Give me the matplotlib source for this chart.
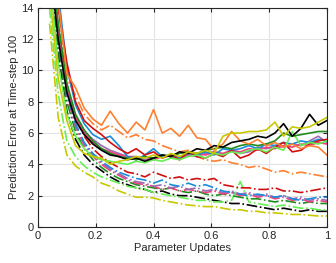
import matplotlib
matplotlib.use('Agg')
import matplotlib.pyplot as plt

plt.rcParams['font.family'] = ['Liberation Sans', 'DejaVu Sans']

x = [0.04, 0.07, 0.10, 0.13, 0.16, 0.19, 0.22, 0.25, 0.28, 0.31, 0.34,
     0.37, 0.40, 0.43, 0.46, 0.49, 0.52, 0.55, 0.58, 0.61, 0.64, 0.67,
     0.70, 0.73, 0.76, 0.79, 0.82, 0.85, 0.88, 0.91, 0.94, 0.97, 1.00]

# solid lines
black_solid = [17, 12, 8.6, 6.8, 5.9, 5.3, 4.9, 4.6, 4.5, 4.3, 4.4, 4.2, 4.4, 4.6, 4.5, 4.8, 4.7,
               5.0, 4.9, 5.2, 5.1, 5.4, 5.5, 5.6, 5.8, 5.7, 6.0, 6.6, 5.8, 6.3, 7.2, 6.5, 6.8]
red_solid = [19, 14, 10.5, 8.0, 6.8, 6.3, 5.9, 5.4, 5.0, 4.7, 5.0, 4.6, 4.8, 4.4, 4.6, 4.3, 4.8,
             4.5, 4.4, 4.7, 4.5, 4.9, 4.4, 4.6, 5.0, 4.7, 5.1, 5.4, 4.8, 4.9, 5.3, 5.5, 5.6]
blue_solid = [20, 15, 10.2, 7.8, 6.6, 5.9, 5.6, 5.8, 5.2, 4.5, 4.3, 4.6, 5.0, 4.5, 4.6, 4.4, 4.7,
              4.6, 4.8, 4.6, 5.0, 4.9, 5.0, 5.2, 5.0, 5.3, 5.2, 5.4, 5.3, 5.5, 5.4, 5.6, 5.5]
orange_solid = [20, 14.5, 9.8, 8.9, 7.6, 6.9, 6.5, 7.4, 6.6, 6.0, 6.7, 6.2, 7.5, 6.0, 6.3, 5.8, 6.5,
                5.7, 5.6, 4.9, 5.3, 6.1, 5.5, 5.3, 5.6, 5.2, 5.4, 5.1, 5.3, 5.0, 5.2, 5.1, 4.6]
green_solid = [18, 13, 9.2, 7.2, 6.2, 5.5, 5.0, 4.7, 4.5, 4.4, 4.3, 4.5, 4.4, 4.6, 4.5, 4.7, 4.8,
               4.7, 4.9, 5.0, 5.1, 5.0, 5.2, 5.3, 5.2, 5.3, 5.5, 6.0, 5.8, 5.9, 6.0, 6.1, 6.1]
lgreen_solid = [16, 10.5, 7.2, 5.8, 5.0, 4.5, 4.3, 4.2, 4.1, 4.0, 4.2, 4.1, 4.3, 4.2, 4.4, 4.3, 4.5,
                4.6, 4.4, 4.7, 4.6, 4.8, 4.7, 4.9, 5.0, 4.8, 5.1, 4.9, 6.1, 5.2, 5.4, 5.3, 5.5]
pink_solid = [18, 12.5, 8.8, 7.0, 6.0, 5.4, 5.0, 4.8, 4.6, 4.5, 4.4, 4.5, 4.3, 4.5, 4.6, 4.4, 4.6,
              4.7, 4.6, 4.8, 4.7, 4.9, 4.8, 5.0, 4.9, 5.1, 5.0, 5.2, 5.1, 5.3, 5.2, 5.4, 5.3]
purple_solid = [18, 12.8, 9.0, 7.1, 6.1, 5.6, 5.2, 4.9, 4.7, 4.5, 4.5, 4.3, 4.4, 4.6, 4.5, 4.3, 4.6,
                4.5, 4.7, 4.8, 4.6, 4.9, 4.7, 4.8, 5.1, 5.0, 5.2, 5.1, 5.3, 5.2, 5.5, 5.8, 5.4]
yellow_solid = [15, 9.5, 6.8, 5.2, 4.7, 4.5, 4.4, 4.0, 4.2, 4.3, 4.5, 4.4, 4.6, 4.4, 4.7, 4.5, 4.8,
                4.7, 4.9, 4.7, 5.8, 6.0, 6.0, 6.1, 6.1, 6.2, 6.7, 5.8, 6.4, 6.3, 6.4, 6.7, 7.0]

# dash-dot lines
black_dash = [17, 11, 7.4, 5.6, 4.6, 4.0, 3.6, 3.2, 2.9, 2.7, 2.5, 2.4, 2.2, 2.3, 2.1, 2.0, 2.0,
              1.9, 1.8, 1.7, 1.6, 1.5, 1.5, 1.4, 1.3, 1.2, 1.1, 1.2, 1.1, 1.0, 1.1, 1.0, 1.0]
red_dash = [18, 12.5, 9.0, 7.0, 5.8, 5.0, 4.5, 4.1, 3.8, 3.5, 3.4, 3.2, 3.5, 3.3, 3.1, 3.2, 3.0,
            3.1, 3.0, 3.1, 2.7, 2.6, 2.5, 2.5, 2.4, 2.4, 2.5, 2.3, 2.3, 2.2, 2.3, 2.4, 2.5]
blue_dash = [18, 12, 8.5, 6.6, 5.4, 4.7, 4.2, 3.8, 3.5, 3.3, 3.1, 3.0, 2.8, 3.0, 2.7, 2.6, 2.8,
             2.6, 2.7, 2.5, 2.3, 2.2, 2.1, 2.0, 2.1, 2.0, 1.9, 2.0, 1.8, 1.7, 1.8, 1.9, 1.9]
orange_dash = [20, 14, 9.5, 8.4, 7.2, 6.6, 6.2, 6.5, 6.1, 5.7, 5.9, 5.6, 5.5, 5.2, 5.0, 4.8, 4.9,
               4.5, 4.3, 4.2, 4.3, 4.1, 4.0, 3.8, 3.9, 3.7, 3.5, 3.6, 3.4, 3.5, 3.4, 3.3, 3.2]
green_dash = [17, 11.5, 8.0, 6.1, 5.0, 4.3, 3.8, 3.4, 3.1, 2.9, 2.7, 2.6, 2.5, 2.4, 2.5, 2.3, 2.2,
              2.3, 2.1, 2.0, 2.1, 2.0, 1.9, 1.8, 1.8, 1.7, 1.6, 1.7, 1.6, 1.5, 1.6, 1.5, 1.5]
lgreen_dash = [14, 8.5, 5.5, 4.5, 3.9, 3.5, 3.2, 3.0, 2.8, 2.6, 2.5, 2.4, 2.2, 2.1, 2.0, 1.9, 1.8,
               1.7, 1.7, 1.6, 1.6, 1.7, 2.9, 1.6, 1.5, 1.4, 1.3, 1.4, 1.3, 1.2, 1.2, 1.1, 1.1]
pink_dash = [18, 12, 8.4, 6.4, 5.2, 4.5, 4.0, 3.6, 3.3, 3.0, 2.8, 2.7, 2.6, 2.4, 2.5, 2.3, 2.4,
             2.3, 2.2, 2.3, 2.1, 2.2, 2.0, 2.1, 1.9, 2.0, 1.8, 1.9, 1.7, 1.8, 1.6, 1.7, 1.6]
purple_dash = [18, 12.2, 8.6, 6.5, 5.3, 4.6, 4.1, 3.7, 3.4, 3.1, 2.9, 2.8, 2.6, 2.7, 2.5, 2.6, 2.4,
               2.5, 2.3, 2.4, 2.2, 2.3, 2.1, 2.2, 2.0, 2.1, 1.9, 2.0, 1.8, 1.9, 1.7, 1.8, 1.7]
yellow_dash = [13, 7.0, 4.6, 3.9, 3.5, 3.2, 2.8, 2.6, 2.3, 2.1, 1.9, 1.9, 1.85, 1.7, 1.6, 1.5, 1.4,
               1.35, 1.3, 1.3, 1.2, 1.1, 1.1, 1.0, 1.0, 0.9, 0.9, 0.85, 0.8, 0.8, 0.75, 0.7, 0.7]

series = [
    (yellow_dash, '#c8c800', '-.'), (black_dash, 'black', '-.'), (lgreen_dash, '#66ee55', '-.'),
    (green_dash, '#1e8c1e', '-.'), (pink_dash, '#f0407f', '-.'), (purple_dash, '#9b6bb0', '-.'),
    (blue_dash, '#1a8cd8', '-.'), (red_dash, '#d01010', '-.'), (orange_dash, '#ff8030', '-.'),
    (purple_solid, '#9b6bb0', '-'), (pink_solid, '#f0407f', '-'), (blue_solid, '#1a8cd8', '-'),
    (red_solid, '#d01010', '-'), (lgreen_solid, '#66ee55', '-'), (green_solid, '#1e8c1e', '-'),
    (orange_solid, '#ff8030', '-'), (black_solid, 'black', '-'), (yellow_solid, '#c8c800', '-'),
]

fig = plt.figure(figsize=(3.36, 2.63), dpi=100)
ax = fig.add_axes([0.113, 0.137, 0.860, 0.833])
for vals, col, ls in series:
    ax.plot(x, vals, color=col, linestyle=ls, linewidth=1.2)

ax.set_xlim(0, 1)
ax.set_ylim(0, 14)
ax.set_xticks([0, 0.2, 0.4, 0.6, 0.8, 1])
ax.set_xticklabels(['0', '0.2', '0.4', '0.6', '0.8', '1'])
ax.set_yticks(range(0, 15, 2))
ax.grid(True, color='#e3e3e3', linewidth=0.8)
ax.set_axisbelow(True)
ax.tick_params(direction='in', top=True, right=True, length=3, labelsize=8,
               colors='#262626', pad=3)
for s in ax.spines.values():
    s.set_color('#262626')
    s.set_linewidth(0.8)
ax.set_xlabel('Parameter Updates', fontsize=8, color='#262626', labelpad=1)
ax.set_ylabel('Prediction Error at Time-step 100', fontsize=8, color='#262626', labelpad=2)

fig.savefig('out.png', dpi=100)
